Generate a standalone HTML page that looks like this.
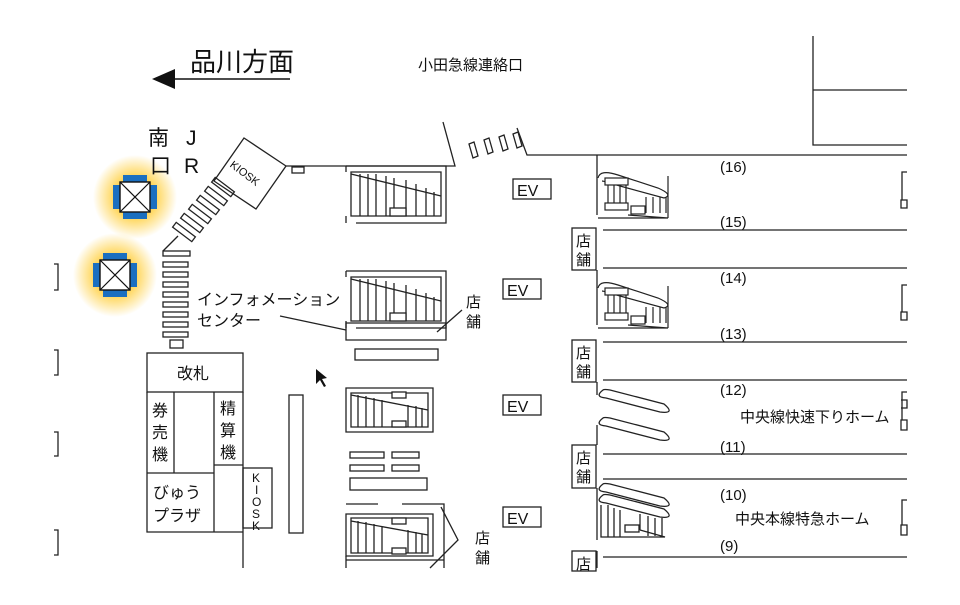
<!DOCTYPE html>
<html><head><meta charset="utf-8"><style>
html,body{margin:0;padding:0;background:#fff;width:960px;height:605px;overflow:hidden}
svg text{font-family:"Liberation Sans","Noto Sans CJK JP",sans-serif;fill:#111}
</style></head><body>
<svg width="960" height="605" viewBox="0 0 960 605" xmlns="http://www.w3.org/2000/svg">
<defs>
<radialGradient id="g"><stop offset="0.5" stop-color="#ffd24a" stop-opacity="0.9"/><stop offset="1" stop-color="#ffd24a" stop-opacity="0"/></radialGradient>
<g id="esc" stroke="#222" fill="none" stroke-width="1.3">
<path d="M0,0 H100 V57 H10"/><path d="M0,0 V6 M0,50 V57"/>
<path d="M5,6 H95 V50 H5 Z"/>
<path d="M5,8 L95,30" /><path d="M14,8 V50 M22,8 V50 M30,8 V50 M40,10 V50 M48,12 V50 M60,14 V50 M70,18 V50 M80,22 V50 M88,26 V50"/>
<rect x="44" y="42" width="16" height="8" fill="#fff"/>
</g>
<g id="resc" stroke="#222" fill="none" stroke-width="1.2">
<path d="M0,5 Q2,-4 20,2 L60,15 Q76,22 66,25 L22,13 Q6,8 4,8"/>
<rect x="7" y="5" width="23" height="7" fill="#fff"/>
<path d="M10,12 V30 M16,12 V30 M22,12 V30 M28,12 V30 M48,24 V40 M55,24 V40 M62,24 V40 M68,24 V40"/>
<rect x="7" y="30" width="23" height="7" fill="#fff"/><rect x="33" y="33" width="14" height="8" fill="#fff"/>
<path d="M0,45 H70 L30,42"/><path d="M70,3 V45"/>
</g>
<g id="icon">
<rect x="-12" y="-22" width="24" height="44" fill="#1a6fc0"/><rect x="-22" y="-12" width="44" height="24" fill="#1a6fc0"/>
<rect x="-15" y="-15" width="30" height="30" fill="#fff" stroke="#111" stroke-width="1.4"/>
<path d="M-15,-15 L15,15 M15,-15 L-15,15" stroke="#111" stroke-width="1.2"/>
</g>
</defs>
<circle cx="135" cy="197" r="42" fill="url(#g)"/>
<circle cx="115" cy="275" r="42" fill="url(#g)"/>
<use href="#icon" x="135" y="197"/>
<use href="#icon" x="115" y="275"/>
<text x="190" y="71" font-size="26">品川方面</text>
<path d="M175,79 H290" stroke="#111" stroke-width="1.5"/>
<path d="M152,79 L175,69 L175,89 Z" fill="#111"/>
<text x="418" y="70" font-size="15">小田急線連絡口</text>
<text x="148" y="145" font-size="21">南</text><text x="150" y="173" font-size="21">口</text>
<text x="186" y="145" font-size="21">J</text><text x="184" y="173" font-size="21">R</text>
<g stroke="#222" fill="none" stroke-width="1.3">
<path d="M54,264 H58 V290 H54 M54,350 H58 V375 H54 M54,432 H58 V456 H54 M54,530 H58 V555 H54"/>
<path d="M244,138 L286,166 L256,209 L214,181 Z"/>
<rect x="292" y="167" width="12" height="6"/>
<path d="M286,166 H455 L443,122"/>
<path d="M517,128 L527,155 H907"/>
<path d="M469,144 l5,-2 l4,14 l-5,2 Z M484,140 l5,-2 l4,14 l-5,2 Z M499,137 l5,-2 l4,14 l-5,2 Z M513,134 l5,-2 l4,14 l-5,2 Z"/>
<g transform="translate(184,232) rotate(37)"><rect x="-12" y="-3" width="24" height="6"/></g>
<g transform="translate(192,223) rotate(37)"><rect x="-12" y="-3" width="24" height="6"/></g>
<g transform="translate(200,214) rotate(37)"><rect x="-12" y="-3" width="24" height="6"/></g>
<g transform="translate(208,205) rotate(37)"><rect x="-12" y="-3" width="24" height="6"/></g>
<g transform="translate(216,196) rotate(37)"><rect x="-12" y="-3" width="24" height="6"/></g>
<g transform="translate(223,187) rotate(37)"><rect x="-12" y="-3" width="24" height="6"/></g>
<path d="M163,251 L178,236"/>
<rect x="163" y="251" width="27" height="5"/><rect x="163" y="262" width="25" height="5"/><rect x="163" y="272" width="25" height="5"/><rect x="163" y="282" width="25" height="5"/><rect x="163" y="292" width="25" height="5"/><rect x="163" y="302" width="25" height="5"/><rect x="163" y="312" width="25" height="5"/><rect x="163" y="322" width="25" height="5"/><rect x="163" y="332" width="25" height="5"/>
<rect x="170" y="340" width="13" height="8"/>
<rect x="147" y="353" width="96" height="39"/>
<path d="M147,392 V532 H243 V392 M174,392 V473 M214,392 V532 M147,473 H214 M214,465 H243 M243,532 V568"/>
<rect x="243" y="468" width="29" height="60"/>
<rect x="289" y="395" width="14" height="138"/>
<use href="#esc" x="346" y="166"/>
<use href="#esc" x="346" y="271"/>
<path d="M346,323 H446 V340 H346 Z"/>
<rect x="355" y="349" width="83" height="11"/>
<path d="M280,316 L346,330"/>
<path d="M437,332 L462,310"/>
<g><path d="M346,388 H433 V432 H346 Z"/><path d="M351,393 H428 V427 H351 Z"/><path d="M351,395 L428,410 M358,395 V427 M366,396 V427 M374,398 V427 M382,400 V427 M408,405 V427 M416,406 V427 M422,408 V427"/><rect x="392" y="392" width="14" height="6" fill="#fff"/><rect x="392" y="421" width="14" height="6" fill="#fff"/></g>
<rect x="350" y="452" width="34" height="6"/><rect x="350" y="465" width="34" height="6"/><rect x="392" y="452" width="27" height="6"/><rect x="392" y="465" width="27" height="6"/>
<rect x="350" y="478" width="77" height="12"/>
<path d="M346,504 H378 M402,504 H444 V568"/>
<g><path d="M346,514 H433 V556 H346 Z"/><path d="M351,518 H428 V553 H351 Z"/><path d="M351,521 L428,535 M358,521 V553 M366,522 V553 M374,524 V553 M382,526 V553 M408,530 V553 M416,532 V553 M422,534 V553"/><rect x="392" y="518" width="14" height="6" fill="#fff"/><rect x="392" y="548" width="14" height="6" fill="#fff"/></g>
<path d="M346,556 V568 M346,560 H444"/>
<path d="M441,507 L458,540 L430,568"/>
<rect x="513" y="179" width="38" height="20"/><rect x="503" y="279" width="38" height="20"/><rect x="503" y="395" width="38" height="20"/><rect x="503" y="507" width="38" height="20"/>
<path d="M813,36 V145 H907 M813,90 H907"/>
<path d="M597,155 V215 M597,270 V325 M597,382 V395 M597,425 V445 M597,488 V540 M597,551 V568"/>
<path d="M603,230 H907 M603,268 H907 M603,342 H907 M603,380 H907 M603,454 H907 M603,479 H907 M603,557 H907"/>
<rect x="572" y="228" width="24" height="42"/><rect x="572" y="340" width="24" height="42"/><rect x="572" y="445" width="24" height="43"/><rect x="572" y="551" width="24" height="20"/>
<use href="#resc" x="598" y="173"/>
<use href="#resc" x="598" y="283"/>
<path d="M603,390 Q594,397 606,398 L660,412 Q676,414 664,404 L610,390 Q604,389 603,390 Z"/>
<path d="M603,418 Q594,425 606,426 L660,440 Q676,442 664,432 L610,418 Q604,417 603,418 Z"/>
<path d="M603,484 Q594,491 606,492 L660,506 Q676,508 664,498 L610,484 Q604,483 603,484 Z"/>
<path d="M603,495 Q594,502 606,503 L660,517 Q676,519 664,509 L610,495 Q604,494 603,495 Z"/>
<path d="M601,505 V537 H665 L640,530 M608,505 V537 M614,508 V537 M620,510 V537 M640,514 V530 M648,516 V536 M655,518 V536 M662,518 V536"/>
<rect x="625" y="525" width="14" height="7"/>
<path d="M907,172 H902 V200 M901,200 H907 V208 H901 Z M907,285 H902 V312 M901,312 H907 V320 H901 Z"/>
<path d="M907,392 H902 V420 M901,400 H907 V408 H901 M901,420 H907 V430 H901 Z M907,500 H902 V525 M901,525 H907 V535 H901 Z"/>
</g>
<text x="245" y="177" font-size="11" text-anchor="middle" transform="rotate(37 245 173)">KIOSK</text>
<text x="197" y="305" font-size="16">インフォメーション</text>
<text x="197" y="326" font-size="16">センター</text>
<text x="466" y="307" font-size="15">店</text><text x="466" y="327" font-size="15">舗</text>
<text x="475" y="543" font-size="15">店</text><text x="475" y="563" font-size="15">舗</text>
<text x="177" y="379" font-size="16">改札</text>
<text x="152" y="416" font-size="16">券</text><text x="152" y="438" font-size="16">売</text><text x="152" y="460" font-size="16">機</text>
<text x="220" y="414" font-size="16">精</text><text x="220" y="436" font-size="16">算</text><text x="220" y="458" font-size="16">機</text>
<text x="153" y="498" font-size="16">びゅう</text><text x="153" y="521" font-size="16">プラザ</text>
<text x="252" y="482" font-size="12">K</text><text x="255" y="494" font-size="12">I</text><text x="252" y="506" font-size="12">O</text><text x="252" y="518" font-size="12">S</text><text x="252" y="530" font-size="12">K</text>
<text x="517" y="196" font-size="16">EV</text><text x="507" y="296" font-size="16">EV</text><text x="507" y="412" font-size="16">EV</text><text x="507" y="524" font-size="16">EV</text>
<g font-size="15"><text x="576" y="246">店</text><text x="576" y="265">舗</text><text x="576" y="358">店</text><text x="576" y="377">舗</text><text x="576" y="463">店</text><text x="576" y="482">舗</text><text x="576" y="569">店</text></g>
<g font-size="15"><text x="720" y="172">(16)</text><text x="720" y="227">(15)</text><text x="720" y="283">(14)</text><text x="720" y="339">(13)</text><text x="720" y="395">(12)</text><text x="720" y="452">(11)</text><text x="720" y="500">(10)</text><text x="720" y="551">(9)</text></g>
<text x="740" y="422" font-size="15">中央線快速下りホーム</text>
<text x="735" y="524" font-size="15">中央本線特急ホーム</text>
<path d="M316,369 L316,384 L320,380 L324,387 L326,386 L322,379 L327,378 Z" fill="#111"/>
</svg>
</body></html>
